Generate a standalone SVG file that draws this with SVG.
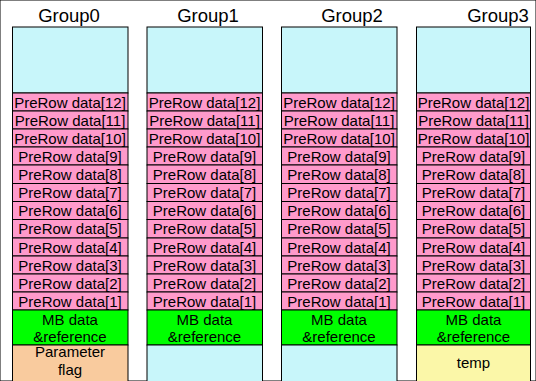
<svg xmlns="http://www.w3.org/2000/svg" width="536" height="381" viewBox="0 0 536 381">
  <style>
    rect { stroke: #000; stroke-width: 1; }
    .sky { fill: #C8F6FA; }
    .row { fill: #FF9ACB; }
    .mb { fill: #00FF00; }
    .param { fill: #F9CB9E; }
    .temp { fill: #FBF7A8; }
    text { font-family: "Liberation Sans", Arial, sans-serif; font-size: 15px; fill: #000; text-anchor: middle; }
    .title { font-size: 18.5px; }
  </style>
  <rect x="0" y="0" width="536" height="381" fill="#fff" stroke="none"/>

  <!-- Group0 -->
  <g id="group0">
    <text class="title" x="69" y="22">Group0</text>
    <rect class="sky" x="12.5" y="27" width="115.5" height="66"/>
    <rect class="row" x="12.5" y="93" width="115.5" height="18"/><text x="70" y="107.5">PreRow data[12]</text>
    <rect class="row" x="12.5" y="111" width="115.5" height="18"/><text x="70" y="125.5">PreRow data[11]</text>
    <rect class="row" x="12.5" y="129" width="115.5" height="18"/><text x="70" y="143.5">PreRow data[10]</text>
    <rect class="row" x="12.5" y="147" width="115.5" height="18"/><text x="70" y="161.5">PreRow data[9]</text>
    <rect class="row" x="12.5" y="165" width="115.5" height="18.5"/><text x="70" y="179.5">PreRow data[8]</text>
    <rect class="row" x="12.5" y="183.5" width="115.5" height="18"/><text x="70" y="198">PreRow data[7]</text>
    <rect class="row" x="12.5" y="201.5" width="115.5" height="18"/><text x="70" y="216">PreRow data[6]</text>
    <rect class="row" x="12.5" y="219.5" width="115.5" height="18.5"/><text x="70" y="234">PreRow data[5]</text>
    <rect class="row" x="12.5" y="238" width="115.5" height="18"/><text x="70" y="252.5">PreRow data[4]</text>
    <rect class="row" x="12.5" y="256" width="115.5" height="18"/><text x="70" y="270.5">PreRow data[3]</text>
    <rect class="row" x="12.5" y="274" width="115.5" height="18"/><text x="70" y="288.5">PreRow data[2]</text>
    <rect class="row" x="12.5" y="292" width="115.5" height="18"/><text x="70" y="306.5">PreRow data[1]</text>
    <rect class="mb" x="12.5" y="310" width="115.5" height="35"/>
    <text x="70" y="325">MB data</text><text x="70" y="341.5">&amp;reference</text>
    <rect class="param" x="12.5" y="345" width="115.5" height="45"/>
    <text x="70" y="357">Parameter</text><text x="70" y="375">flag</text>
  </g>

  <!-- Group1 -->
  <g id="group1">
    <text class="title" x="208" y="22">Group1</text>
    <rect class="sky" x="147" y="27" width="115.5" height="66"/>
    <rect class="row" x="147" y="93" width="115.5" height="18"/><text x="204.5" y="107.5">PreRow data[12]</text>
    <rect class="row" x="147" y="111" width="115.5" height="18"/><text x="204.5" y="125.5">PreRow data[11]</text>
    <rect class="row" x="147" y="129" width="115.5" height="18"/><text x="204.5" y="143.5">PreRow data[10]</text>
    <rect class="row" x="147" y="147" width="115.5" height="18"/><text x="204.5" y="161.5">PreRow data[9]</text>
    <rect class="row" x="147" y="165" width="115.5" height="18.5"/><text x="204.5" y="179.5">PreRow data[8]</text>
    <rect class="row" x="147" y="183.5" width="115.5" height="18"/><text x="204.5" y="198">PreRow data[7]</text>
    <rect class="row" x="147" y="201.5" width="115.5" height="18"/><text x="204.5" y="216">PreRow data[6]</text>
    <rect class="row" x="147" y="219.5" width="115.5" height="18.5"/><text x="204.5" y="234">PreRow data[5]</text>
    <rect class="row" x="147" y="238" width="115.5" height="18"/><text x="204.5" y="252.5">PreRow data[4]</text>
    <rect class="row" x="147" y="256" width="115.5" height="18"/><text x="204.5" y="270.5">PreRow data[3]</text>
    <rect class="row" x="147" y="274" width="115.5" height="18"/><text x="204.5" y="288.5">PreRow data[2]</text>
    <rect class="row" x="147" y="292" width="115.5" height="18"/><text x="204.5" y="306.5">PreRow data[1]</text>
    <rect class="mb" x="147" y="310" width="115.5" height="35"/>
    <text x="204.5" y="325">MB data</text><text x="204.5" y="341.5">&amp;reference</text>
    <rect class="sky" x="147" y="345" width="115.5" height="45"/>
  </g>

  <!-- Group2 -->
  <g id="group2">
    <text class="title" x="352" y="22">Group2</text>
    <rect class="sky" x="281.5" y="27" width="115.5" height="66"/>
    <rect class="row" x="281.5" y="93" width="115.5" height="18"/><text x="339" y="107.5">PreRow data[12]</text>
    <rect class="row" x="281.5" y="111" width="115.5" height="18"/><text x="339" y="125.5">PreRow data[11]</text>
    <rect class="row" x="281.5" y="129" width="115.5" height="18"/><text x="339" y="143.5">PreRow data[10]</text>
    <rect class="row" x="281.5" y="147" width="115.5" height="18"/><text x="339" y="161.5">PreRow data[9]</text>
    <rect class="row" x="281.5" y="165" width="115.5" height="18.5"/><text x="339" y="179.5">PreRow data[8]</text>
    <rect class="row" x="281.5" y="183.5" width="115.5" height="18"/><text x="339" y="198">PreRow data[7]</text>
    <rect class="row" x="281.5" y="201.5" width="115.5" height="18"/><text x="339" y="216">PreRow data[6]</text>
    <rect class="row" x="281.5" y="219.5" width="115.5" height="18.5"/><text x="339" y="234">PreRow data[5]</text>
    <rect class="row" x="281.5" y="238" width="115.5" height="18"/><text x="339" y="252.5">PreRow data[4]</text>
    <rect class="row" x="281.5" y="256" width="115.5" height="18"/><text x="339" y="270.5">PreRow data[3]</text>
    <rect class="row" x="281.5" y="274" width="115.5" height="18"/><text x="339" y="288.5">PreRow data[2]</text>
    <rect class="row" x="281.5" y="292" width="115.5" height="18"/><text x="339" y="306.5">PreRow data[1]</text>
    <rect class="mb" x="281.5" y="310" width="115.5" height="35"/>
    <text x="339" y="325">MB data</text><text x="339" y="341.5">&amp;reference</text>
    <rect class="sky" x="281.5" y="345" width="115.5" height="45"/>
  </g>

  <!-- Group3 -->
  <g id="group3">
    <text class="title" x="498" y="22">Group3</text>
    <rect class="sky" x="416.5" y="27" width="114" height="66"/>
    <rect class="row" x="416.5" y="93" width="114" height="18"/><text x="473.5" y="107.5">PreRow data[12]</text>
    <rect class="row" x="416.5" y="111" width="114" height="18"/><text x="473.5" y="125.5">PreRow data[11]</text>
    <rect class="row" x="416.5" y="129" width="114" height="18"/><text x="473.5" y="143.5">PreRow data[10]</text>
    <rect class="row" x="416.5" y="147" width="114" height="18"/><text x="473.5" y="161.5">PreRow data[9]</text>
    <rect class="row" x="416.5" y="165" width="114" height="18.5"/><text x="473.5" y="179.5">PreRow data[8]</text>
    <rect class="row" x="416.5" y="183.5" width="114" height="18"/><text x="473.5" y="198">PreRow data[7]</text>
    <rect class="row" x="416.5" y="201.5" width="114" height="18"/><text x="473.5" y="216">PreRow data[6]</text>
    <rect class="row" x="416.5" y="219.5" width="114" height="18.5"/><text x="473.5" y="234">PreRow data[5]</text>
    <rect class="row" x="416.5" y="238" width="114" height="18"/><text x="473.5" y="252.5">PreRow data[4]</text>
    <rect class="row" x="416.5" y="256" width="114" height="18"/><text x="473.5" y="270.5">PreRow data[3]</text>
    <rect class="row" x="416.5" y="274" width="114" height="18"/><text x="473.5" y="288.5">PreRow data[2]</text>
    <rect class="row" x="416.5" y="292" width="114" height="18"/><text x="473.5" y="306.5">PreRow data[1]</text>
    <rect class="mb" x="416.5" y="310" width="114" height="35"/>
    <text x="473.5" y="325">MB data</text><text x="473.5" y="341.5">&amp;reference</text>
    <rect class="temp" x="416.5" y="345" width="114" height="45"/>
    <text x="473.5" y="368">temp</text>
  </g>
</svg>
